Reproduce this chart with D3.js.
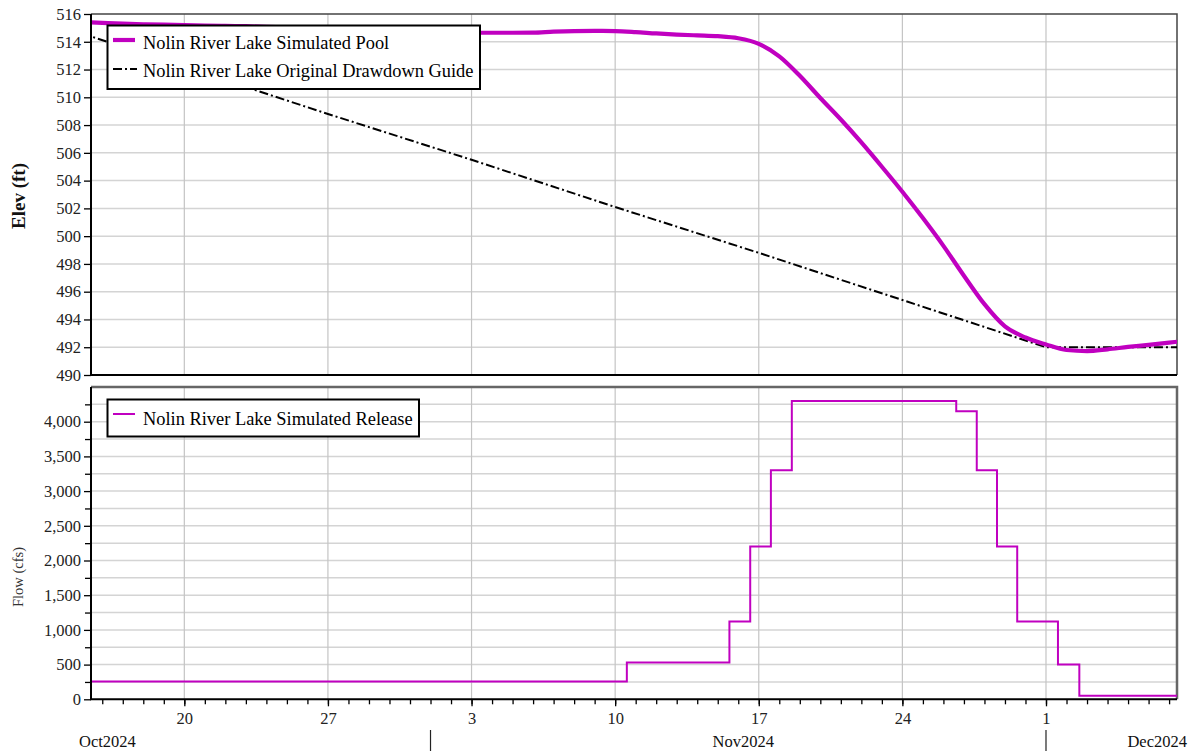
<!DOCTYPE html>
<html><head><meta charset="utf-8">
<script src="https://cdn.jsdelivr.net/npm/d3@7"></script>
<style>
body{margin:0;background:#fff}
svg text{font-family:"Liberation Serif","Times New Roman",Times,"DejaVu Serif",serif !important}
</style>
</head><body>
<svg id="c" width="1193" height="751"></svg>
<script>
// ---------- DATA ----------
const poolDates = ["2024-10-15","2024-10-16","2024-10-17","2024-10-18","2024-10-19","2024-10-20","2024-10-21","2024-10-22","2024-10-23","2024-10-24","2024-10-25","2024-10-26","2024-10-27","2024-10-28","2024-10-29","2024-10-30","2024-10-31","2024-11-01","2024-11-02","2024-11-03","2024-11-04","2024-11-05","2024-11-06","2024-11-07","2024-11-08","2024-11-09","2024-11-10","2024-11-11","2024-11-12","2024-11-13","2024-11-14","2024-11-15","2024-11-16","2024-11-17","2024-11-18","2024-11-19","2024-11-20","2024-11-21","2024-11-22","2024-11-23","2024-11-24","2024-11-25","2024-11-26","2024-11-27","2024-11-28","2024-11-29","2024-11-30","2024-12-01","2024-12-02","2024-12-03","2024-12-04","2024-12-05","2024-12-06","2024-12-07","2024-12-08"];
const poolValues = [515.42,515.36,515.30,515.26,515.23,515.20,515.17,515.14,515.12,515.08,515.03,514.98,514.93,514.88,514.83,514.78,514.74,514.70,514.67,514.65,514.65,514.65,514.66,514.73,514.77,514.78,514.77,514.70,514.60,514.52,514.46,514.40,514.25,513.85,512.95,511.55,509.95,508.40,506.75,505.00,503.20,501.30,499.30,497.15,495.10,493.50,492.70,492.20,491.80,491.72,491.85,492.02,492.17,492.33,492.50];

const guideDates = ["2024-10-15","2024-10-20","2024-10-27","2024-11-03","2024-11-10","2024-11-17","2024-11-24","2024-12-01","2024-12-08"];
const guideValues = [514.6,512.2,508.8,505.5,502.1,498.8,495.4,492.0,492.0];

const releaseDates = ["2024-10-15T00:00Z","2024-11-10T13:40Z","2024-11-15T13:40Z","2024-11-16T14:00Z","2024-11-17T14:10Z","2024-11-18T14:40Z","2024-11-26T15:00Z","2024-11-27T15:00Z","2024-11-28T14:40Z","2024-11-29T14:20Z","2024-12-01T14:00Z","2024-12-02T15:00Z","2024-12-08T00:00Z"];
const releaseValues = [255,530,1120,2200,3300,4300,4150,3300,2200,1120,500,50,50];

const elevTicks = [490,492,494,496,498,500,502,504,506,508,510,512,514,516];
const flowTicks = [0,500,1000,1500,2000,2500,3000,3500,4000];
const flowMinorTicks = [250,750,1250,1750,2250,2750,3250,3750,4250];
const flowGrid = [250,500,750,1000,1250,1500,1750,2000,2250,2500,2750,3000,3250,3500,3750,4000,4250];
const weekTicks = ["2024-10-20","2024-10-27","2024-11-03","2024-11-10","2024-11-17","2024-11-24","2024-12-01"];
const weekLabels = ["20","27","3","10","17","24","1"];
const monthStarts = ["2024-11-01","2024-12-01"];
const monthLabels = ["Oct2024","Nov2024","Dec2024"];
const seriesNames = ["Nolin River Lake Simulated Pool","Nolin River Lake Original Drawdown Guide","Nolin River Lake Simulated Release"];
const domainStart = "2024-10-15T10:50Z", domainEnd = "2024-12-07T09:15Z";

// ---------- LAYOUT ----------
const L = 91, R = 1177;
const T1 = 14, B1 = 375, T2 = 387, B2 = 699.3;
const MAG = "#C000C0";
const FONT = "Liberation Serif, Times New Roman, DejaVu Serif, serif";
const parse = s => new Date(s.length === 10 ? s + "T00:00Z" : s);

const svg = d3.select("#c").attr("font-family", FONT);
const x = d3.scaleUtc().domain([parse(domainStart), parse(domainEnd)]).range([L, R]);
const yE = d3.scaleLinear().domain([490, 516]).range([B1, T1]);
const yF = d3.scaleLinear().domain([0, 4500]).range([B2, T2]);

const defs = svg.append("defs");
defs.append("clipPath").attr("id","c1").append("rect").attr("x",L).attr("y",T1).attr("width",R-L).attr("height",B1-T1);
defs.append("clipPath").attr("id","c2").append("rect").attr("x",L).attr("y",T2).attr("width",R-L).attr("height",B2-T2);

// gridlines
const g1 = svg.append("g");
g1.selectAll("line.h").data(elevTicks.slice(1,-1)).join("line")
  .attr("x1",L).attr("x2",R).attr("y1",d=>yE(d)).attr("y2",d=>yE(d))
  .attr("stroke","#d4d4d4").attr("stroke-width",1.5);
g1.selectAll("line.v").data(weekTicks).join("line")
  .attr("x1",d=>x(parse(d))).attr("x2",d=>x(parse(d))).attr("y1",T1).attr("y2",B1)
  .attr("stroke","#c4c4c4").attr("stroke-width",1.2);
const g2 = svg.append("g");
g2.selectAll("line.h").data(flowGrid).join("line")
  .attr("x1",L).attr("x2",R).attr("y1",d=>yF(d)).attr("y2",d=>yF(d))
  .attr("stroke","#d4d4d4").attr("stroke-width",1.5);
g2.selectAll("line.v").data(weekTicks).join("line")
  .attr("x1",d=>x(parse(d))).attr("x2",d=>x(parse(d))).attr("y1",T2).attr("y2",B2)
  .attr("stroke","#c4c4c4").attr("stroke-width",1.2);

// borders (top/right)
svg.append("path").attr("d",`M${L},${T1}H${R}V${B1}`).attr("fill","none").attr("stroke","#444").attr("stroke-width",1.5);
svg.append("path").attr("d",`M${L},${T2}H${R}V${B2}`).attr("fill","none").attr("stroke","#666").attr("stroke-width",2.5);

// series
const pool = poolDates.map((d,i)=>({d:parse(d),v:poolValues[i]}));
const guide = guideDates.map((d,i)=>({d:parse(d),v:guideValues[i]}));
const rel = releaseDates.map((d,i)=>({d:parse(d),v:releaseValues[i]}));
const lineE = d3.line().curve(d3.curveMonotoneX).x(p=>x(p.d)).y(p=>yE(p.v));
const lineG = d3.line().x(p=>x(p.d)).y(p=>yE(p.v));
const lineF = d3.line().curve(d3.curveStepAfter).x(p=>x(p.d)).y(p=>yF(p.v));

svg.append("path").attr("clip-path","url(#c1)").attr("d",lineG(guide))
  .attr("fill","none").attr("stroke","#000").attr("stroke-width",2).attr("stroke-dasharray","9,3,2,3");
svg.append("path").attr("clip-path","url(#c1)").attr("d",lineE(pool))
  .attr("fill","none").attr("stroke",MAG).attr("stroke-width",4.2).attr("stroke-linejoin","round");
svg.append("path").attr("clip-path","url(#c2)").attr("d",lineF(rel))
  .attr("fill","none").attr("stroke",MAG).attr("stroke-width",2);

// axes
function styleAxis(g){ g.attr("font-family",FONT); g.select(".domain").remove(); g.selectAll("line").attr("stroke","#000").attr("stroke-width",1.3);
  g.selectAll("text").attr("font-size",16.5).attr("fill","#222"); }
svg.append("g").attr("transform",`translate(${L},0)`)
  .call(d3.axisLeft(yE).tickValues(elevTicks).tickSize(7).tickPadding(3).tickFormat(d3.format("d"))).call(styleAxis);
svg.append("g").attr("transform",`translate(${L},0)`)
  .call(d3.axisLeft(yF).tickValues(flowTicks).tickSize(7).tickPadding(3).tickFormat(d3.format(","))).call(styleAxis);
svg.append("g").attr("transform",`translate(${L},0)`)
  .call(d3.axisLeft(yF).tickValues(flowMinorTicks).tickSize(6).tickFormat("")).call(styleAxis);
svg.append("g").attr("transform",`translate(0,${B2})`)
  .call(d3.axisBottom(x).ticks(d3.utcDay.every(1)).tickSize(5).tickFormat("")).call(styleAxis);
svg.append("g").attr("transform",`translate(0,${B2})`)
  .call(d3.axisBottom(x).tickValues(weekTicks.map(parse)).tickSize(7).tickPadding(6).tickFormat((d,i)=>weekLabels[i])).call(styleAxis);

// axis lines (left/bottom black)
svg.append("path").attr("d",`M${L},${T1}V${B1}H${R}`).attr("fill","none").attr("stroke","#000").attr("stroke-width",2);
svg.append("path").attr("d",`M${L},${T2}V${B2}H${R}`).attr("fill","none").attr("stroke","#000").attr("stroke-width",2);

// month labels and separators
svg.selectAll("line.sep").data(monthStarts).join("line")
  .attr("x1",d=>x(parse(d))).attr("x2",d=>x(parse(d))).attr("y1",730).attr("y2",751)
  .attr("stroke","#222").attr("stroke-width",1.2);
const mPos = [
  {x: x.range()[0]-12, a:"start"},
  {x: (x(parse(monthStarts[0]))+x(parse(monthStarts[1])))/2 + 5, a:"middle"},
  {x: R+10, a:"end"}];
svg.selectAll("text.month").data(monthLabels).join("text")
  .attr("x",(d,i)=>mPos[i].x).attr("y",747).attr("text-anchor",(d,i)=>mPos[i].a)
  .attr("font-size",16.5).attr("fill","#111").text(d=>d);

// y labels
svg.append("text").attr("transform","translate(25,196) rotate(-90)").attr("text-anchor","middle")
  .attr("font-size",19).attr("font-weight","bold").attr("fill","#111").text("Elev (ft)");
svg.append("text").attr("transform","translate(23,577) rotate(-90)").attr("text-anchor","middle")
  .attr("font-size",14.5).attr("fill","#333").text("Flow (cfs)");

// legends
const lg1 = svg.append("g");
lg1.append("rect").attr("x",107.5).attr("y",25.5).attr("width",372.5).attr("height",63.5)
  .attr("fill","#fff").attr("stroke","#000").attr("stroke-width",2);
lg1.append("line").attr("x1",113).attr("x2",135).attr("y1",40).attr("y2",40).attr("stroke",MAG).attr("stroke-width",4.2);
lg1.append("line").attr("x1",113).attr("x2",137).attr("y1",69).attr("y2",69).attr("stroke","#000").attr("stroke-width",2).attr("stroke-dasharray","9,3,2,3");
lg1.append("text").attr("x",143).attr("y",49).attr("font-size",18.4).attr("fill","#000").text(seriesNames[0]);
lg1.append("text").attr("x",143).attr("y",76.5).attr("font-size",18.4).attr("fill","#000").text(seriesNames[1]);

const lg2 = svg.append("g");
lg2.append("rect").attr("x",107.5).attr("y",399.5).attr("width",311.5).attr("height",37)
  .attr("fill","#fff").attr("stroke","#000").attr("stroke-width",2);
lg2.append("line").attr("x1",113).attr("x2",135).attr("y1",414).attr("y2",414).attr("stroke",MAG).attr("stroke-width",2);
lg2.append("text").attr("x",143).attr("y",424.5).attr("font-size",18.4).attr("fill","#000").text(seriesNames[2]);
</script>
</body></html>
